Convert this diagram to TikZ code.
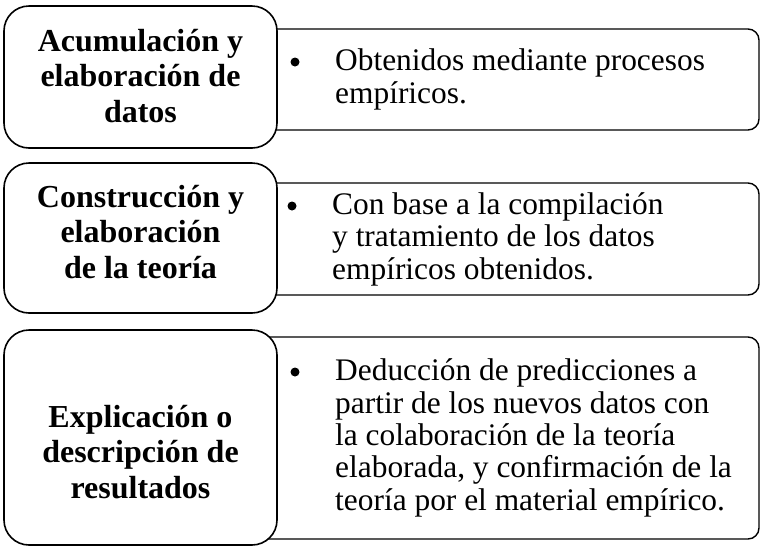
\documentclass[tikz,border=0pt]{standalone}
\usepackage{fontspec}
\setmainfont{Liberation Serif}

\begin{document}
\begin{tikzpicture}[x=1pt, y=1pt,
  etapa/.style={draw, line width=1.6pt, rounded corners=25pt, fill=white, inner sep=0pt},
  titulo/.style={align=center, inner sep=0pt, font=\fontsize{32}{35.5}\selectfont\bfseries},
  detalle/.style={draw, line width=1.4pt, rounded corners=11pt, inner sep=0pt},
  punto/.style={circle, fill=black, minimum size=9pt, inner sep=0pt},
  texto/.style={align=left, anchor=base west, inner sep=0pt, font=\fontsize{31.4}{32.3}\selectfont}]
\useasboundingbox (0,0) rectangle (761,-547);
% recuadros de la derecha (debajo)
\node[detalle, minimum width=509, minimum height=101] (D1) at (504.5,-79.5) {};
\node[detalle, minimum width=509, minimum height=112] (D2) at (504.5,-239) {};
\node[detalle, minimum width=509, minimum height=202] (D3) at (504.5,-438) {};
% recuadros de la izquierda
\node[etapa, minimum width=273, minimum height=142] (E1) at (140.5,-77) {};
\node[etapa, minimum width=273, minimum height=150] (E2) at (140.5,-238) {};
\node[etapa, minimum width=273, minimum height=215] (E3) at (140.5,-437.5) {};
\node[titulo] (T1) at (140.5,-76) {Acumulación y\\elaboración de\\datos};
\node[titulo] (T2) at (140.5,-232) {Construcción y\\elaboración\\de la teoría};
\node[titulo] (T3) at (140.5,-452) {Explicación o\\descripción de\\resultados};
% viñetas y textos (anclados en la última línea)
\node[punto] (P1) at (295,-62) {};
\node[texto] (X1) at (335,-103) {Obtenidos mediante procesos\\empíricos.};
\node[punto] (P2) at (292,-206) {};
\node[texto] (X2) at (332,-279) {Con base a la compilación\\y tratamiento de los datos\\empíricos obtenidos.};
\node[punto] (P3) at (295,-372) {};
\node[texto] (X3) at (335,-510) {Deducción de predicciones a\\partir de los nuevos datos con\\la colaboración de la teoría\\elaborada, y confirmación de la\\teoría por el material empírico.};
\end{tikzpicture}
\end{document}
